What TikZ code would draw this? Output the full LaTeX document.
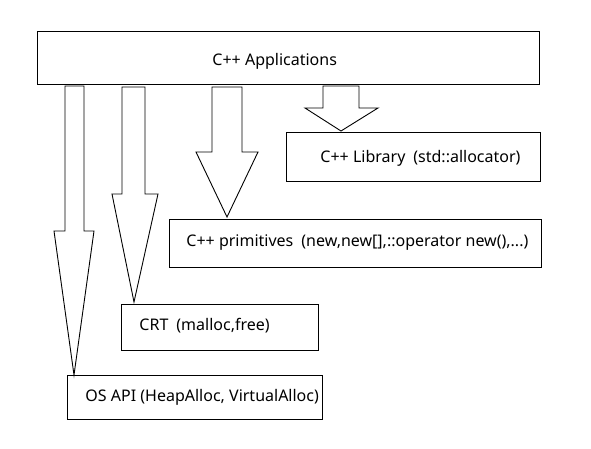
\documentclass[tikz,border=0pt]{standalone}
\usepackage{fontspec}
\setmainfont{Noto Sans}
\begin{document}
\begin{tikzpicture}[x=1pt,y=-1pt,line width=0.9pt,
  box/.style={draw=black,fill=white,inner sep=0pt,anchor=north west},
  lbl/.style={anchor=west,inner sep=0pt,font=\fontsize{16}{19}\selectfont},
  blk/.style={draw=black,fill=white,line join=miter}]
\useasboundingbox (0,0) rectangle (591,449);
\fill[white] (0,0) rectangle (591,449);
% boxes
\node[box,minimum width=502pt,minimum height=53pt] (app) at (37,31) {};
\node[box,minimum width=254pt,minimum height=49pt] (lib) at (286,132) {};
\node[box,minimum width=372pt,minimum height=48pt] (prim) at (169,219) {};
\node[box,minimum width=197pt,minimum height=46pt] (crt) at (121,304) {};
\node[box,minimum width=255pt,minimum height=44pt] (os) at (67,375) {};
% labels
\node[lbl] (tapp) at (212,61) {C++ Applications};
\node[lbl] (tlib) at (320,158) {C++ Library\hspace{0.5em}(std::allocator)};
\node[lbl] (tprim) at (186,243) {C++ primitives\hspace{0.5em}(new,new[],::operator new(),...)};
\node[lbl] (tcrt) at (139,326) {CRT\hspace{0.5em}(malloc,free)};
\node[lbl] (tos) at (85,397) {OS API (HeapAlloc, VirtualAlloc)};
% block arrows
\draw[blk] (65,86) -- (84,86) -- (84,231) -- (94,231) -- (74,375) -- (54,231) -- (65,231) -- cycle;
\draw[blk] (122,87) -- (145,87) -- (145,194) -- (158,194) -- (134,302) -- (112,194) -- (122,194) -- cycle;
\draw[blk] (212,87) -- (242,87) -- (242,152) -- (258,152) -- (227,217) -- (196,152) -- (212,152) -- cycle;
\draw[blk] (323,86) -- (359,86) -- (359,108) -- (378,108) -- (341,131) -- (305,108) -- (323,108) -- cycle;
\end{tikzpicture}
\end{document}
